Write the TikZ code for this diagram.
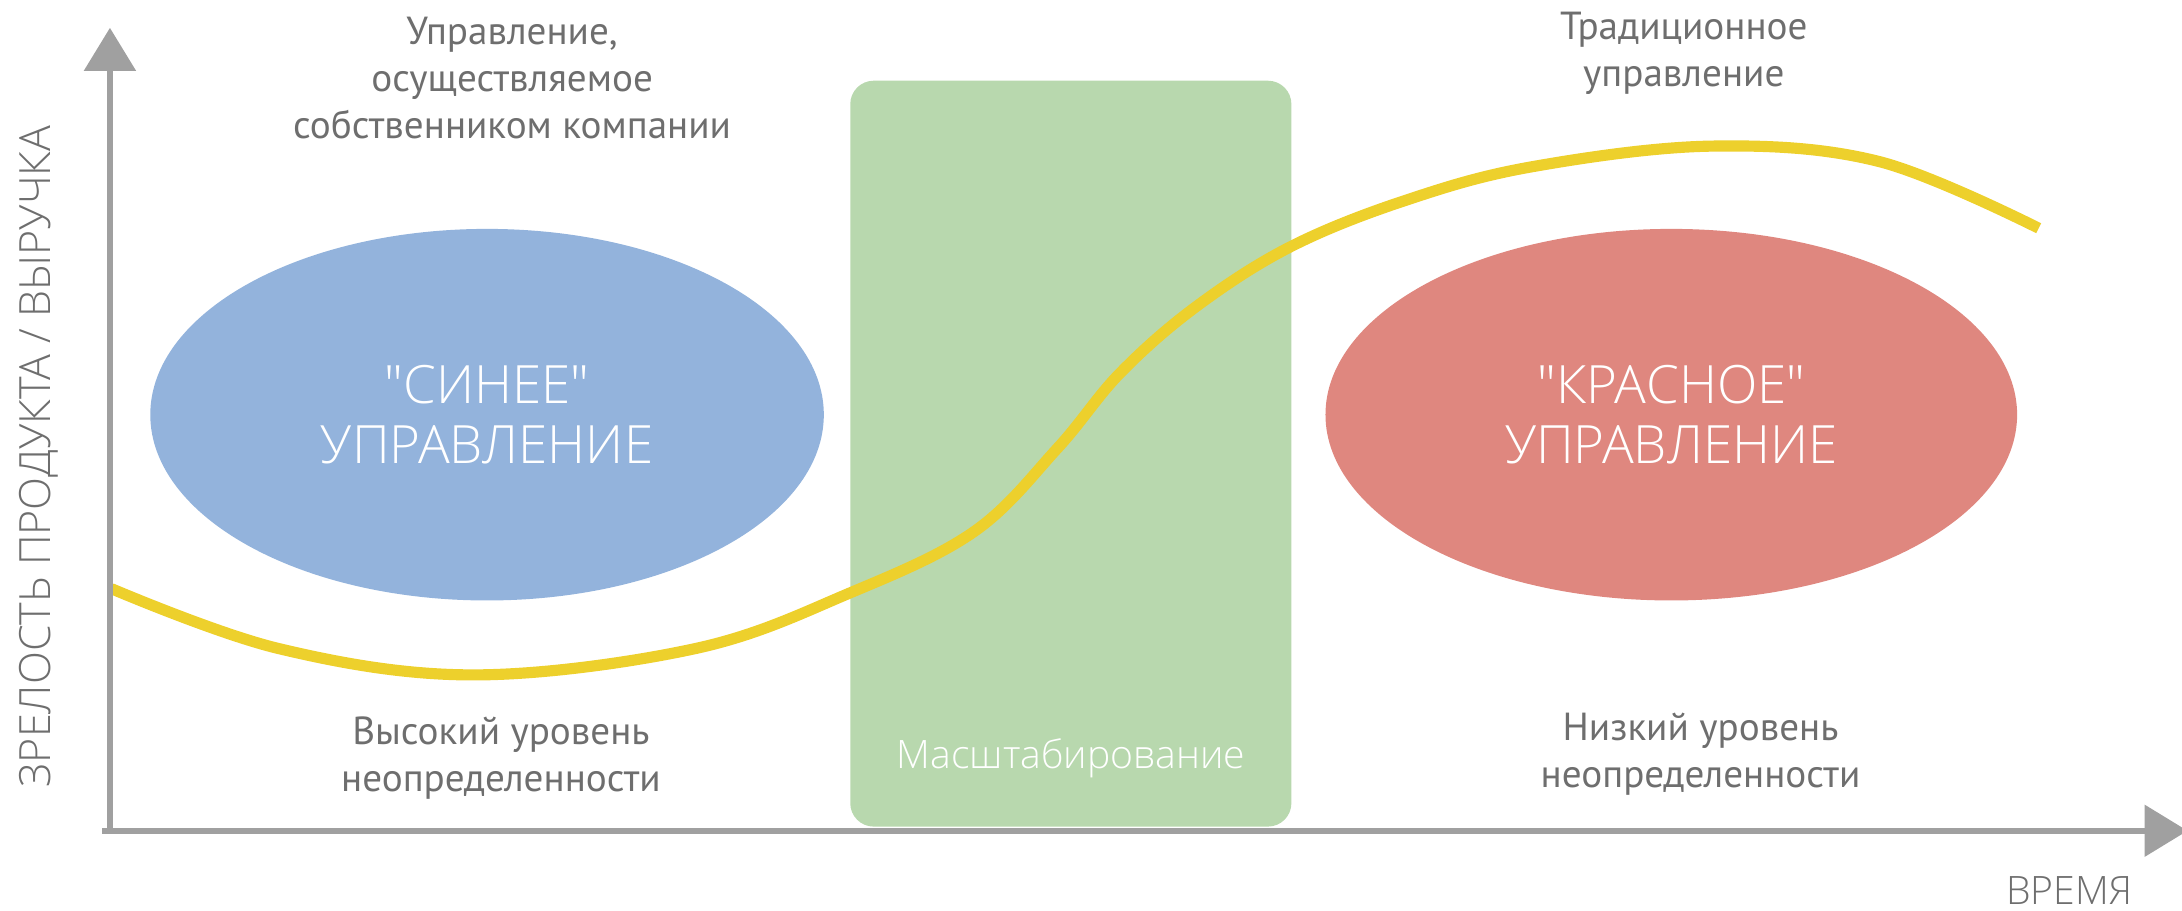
\documentclass[tikz,border=0pt]{standalone}
\usepackage{fontspec}
\setmainfont{PT Sans}
\newfontfamily\widefont{Open Sans Light}
\usetikzlibrary{shapes.geometric,arrows.meta}

\definecolor{axisgray}{HTML}{A0A0A0}
\definecolor{textgray}{HTML}{6E6E6E}
\definecolor{softblue}{HTML}{93B3DC}
\definecolor{softred}{HTML}{DF877F}
\definecolor{softgreen}{HTML}{B8D8AE}
\definecolor{curveyellow}{HTML}{EDD02C}

\tikzset{
  graytext/.style={text=textgray,align=center,font=\fontsize{20}{24}\selectfont},
  bigcaps/.style={text=white,align=center,font=\widefont\fontsize{27}{31}\selectfont},
  axisline/.style={axisgray,line width=3pt,-{Triangle[length=22pt,width=26pt]}},
}

\begin{document}
\begin{tikzpicture}[x=0.25mm,y=-0.25mm]
		\useasboundingbox (0,0) rectangle (1568,654);
		
		% zones
		\node[draw=none,fill=softgreen,rounded corners=12pt,minimum width=79.25mm,minimum height=134mm] (scaling) at (769.5,326) {};
		\node[ellipse,fill=softblue,minimum width=121mm,minimum height=66.75mm,bigcaps] (blue) at (350,298) {"СИНЕЕ"\\УПРАВЛЕНИЕ};
		\node[ellipse,fill=softred,minimum width=124.25mm,minimum height=66.75mm,bigcaps] (red) at (1201,298) {"КРАСНОЕ"\\УПРАВЛЕНИЕ};
		\node[text=white,font=\widefont\fontsize{20}{24}\selectfont] (scalinglbl) at (769.5,545) {Масштабирование};
		
		% curve
		\draw[curveyellow,line width=5.7pt] plot[smooth,tension=0.6] coordinates {(80,423) (200,466) (340,485) (500,466) (611,426) (700,382) (760,322) (805,268) (860,220) (928,177) (1010,144) (1100,120) (1230,105) (1350,116) (1465,164)};
		
		% axes
		\coordinate (origin) at (79,597);
		\coordinate (ytop) at (79,20);
		\coordinate (xend) at (1572,597);
		\draw[axisline] ([xshift=-4pt]origin) -- (xend);
		\draw[axisline] (origin) -- (ytop);
		
		% labels
		\node[graytext] (owner) at (368,56) {Управление,\\осуществляемое\\собственником компании};
		\node[graytext] (trad) at (1210,38) {Традиционное\\управление};
		\node[graytext] (high) at (360,545) {Высокий уровень\\неопределенности};
		\node[graytext] (low) at (1222,542) {Низкий уровень\\неопределенности};
		\node[text=textgray,font=\widefont\fontsize{20}{24}\selectfont] (time) at (1487,640) {ВРЕМЯ};
		\node[text=textgray,font=\widefont\fontsize{22}{24}\selectfont,rotate=90] (maturity) at (28,328) {ЗРЕЛОСТЬ ПРОДУКТА / ВЫРУЧКА};
\end{tikzpicture}
\end{document}
